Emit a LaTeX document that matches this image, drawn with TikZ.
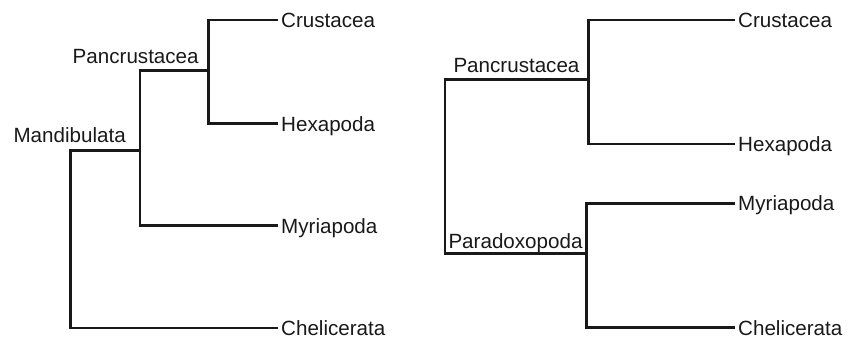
\documentclass[tikz,border=0pt]{standalone}
\usepackage{fontspec}
\setmainfont{Liberation Sans}
\begin{document}
\begin{tikzpicture}[x=1pt,y=-1pt,
  branch/.style={line width=2.6pt,line join=miter,line cap=rect,color=black!90},
  leaf/.style={anchor=west,inner xsep=4pt,inner ysep=0pt,text height=15.4pt,text depth=0pt,font=\fontsize{20.6}{24}\selectfont,text=black!90},
  clade/.style={anchor=base west,inner sep=0pt,font=\fontsize{20.6}{24}\selectfont,text=black!90}]
\useasboundingbox (0,0) rectangle (857,339);
% ---- left tree ----
\coordinate (pancL) at (208.5,70.8);
\coordinate (mandL) at (140,150.5);
\coordinate (rootL) at (70.7,150.5);
\node[leaf] (crusL) at (277,20) {Crustacea};
\node[leaf] (hexaL) at (277,123.5) {Hexapoda};
\node[leaf] (myriL) at (277,225.5) {Myriapoda};
\node[leaf] (chelL) at (277,327.8) {Chelicerata};
\node[clade] (labPancL) at (72.5,63.3) {Pancrustacea};
\node[clade] (labMandL) at (13.3,142.7) {Mandibulata};
\draw[branch] (crusL.west) -| (pancL) |- (hexaL.west);
\draw[branch] (pancL) -| (mandL) |- (myriL.west);
\draw[branch] (mandL) -| (rootL) |- (chelL.west);
% ---- right tree ----
\coordinate (pancR) at (588.3,79.5);
\coordinate (paraR) at (586.7,253.3);
\coordinate (rootR) at (445,79.5);
\node[leaf] (crusR) at (734,20) {Crustacea};
\node[leaf] (hexaR) at (734,144) {Hexapoda};
\node[leaf] (myriR) at (734,203.3) {Myriapoda};
\node[leaf] (chelR) at (734,327.3) {Chelicerata};
\node[clade] (labPancR) at (453.3,72.5) {Pancrustacea};
\node[clade] (labParaR) at (448.3,249) {Paradoxopoda};
\draw[branch] (crusR.west) -| (pancR) |- (hexaR.west);
\draw[branch] (myriR.west) -| (paraR) |- (chelR.west);
\draw[branch] (pancR) -| (rootR) |- (paraR);
\end{tikzpicture}
\end{document}
